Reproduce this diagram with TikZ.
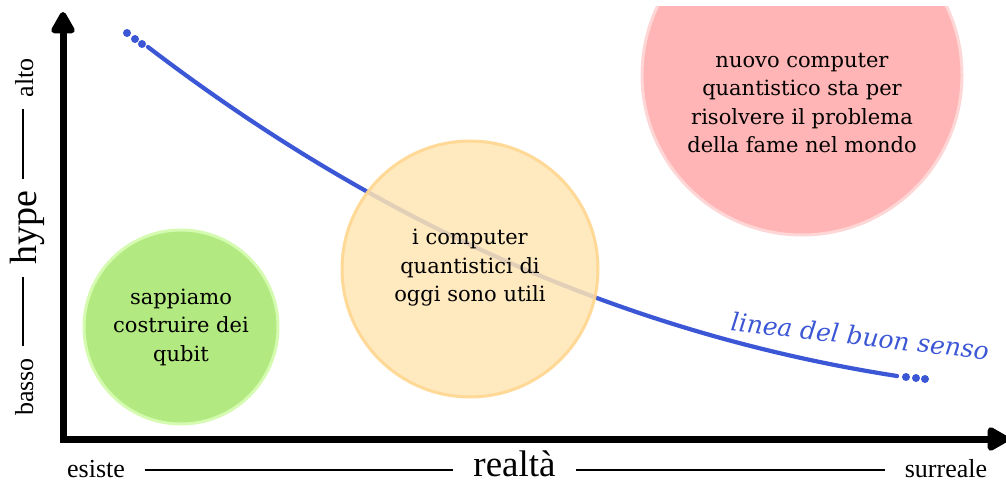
\documentclass[tikz,border=0pt]{standalone}
\usepackage{fontspec}
\setmainfont{DejaVu Serif}
\newfontfamily\axfont{Liberation Serif}
\usetikzlibrary{arrows.meta}
\definecolor{greenfill}{HTML}{B3E981}
\definecolor{greenedge}{HTML}{D4FBB0}
\definecolor{orangefill}{HTML}{FFE5B3}
\definecolor{orangeedge}{HTML}{FFD68F}
\definecolor{pinkfill}{HTML}{FFB5B5}
\definecolor{pinkedge}{HTML}{FFD6D6}
\definecolor{senso}{HTML}{3B57D6}
\begin{document}
\begin{tikzpicture}[x=1pt,y=-1pt,
  bubble/.style={circle, inner sep=0pt, align=center, line width=3pt,
    font=\fontsize{21}{28.5}\selectfont, text=black},
  axisline/.style={line width=7pt, line join=miter,
    {Triangle[length=25pt,width=26pt,round]}-{Triangle[length=25pt,width=26pt,round]}},
  small/.style={font=\axfont\fontsize{26}{26}\selectfont, inner sep=0pt, outer sep=0pt, anchor=base},
  big/.style={font=\axfont\fontsize{38}{38}\selectfont, inner sep=0pt, outer sep=0pt, anchor=base},
  rule/.style={line width=1.5pt},
  curve/.style={line width=4.2pt, senso},
  dot/.style={circle, fill=senso, inner sep=0pt, minimum size=8pt}
]
\useasboundingbox (0,0) rectangle (1006,484);

% axes
\coordinate (ytop) at (63,12);
\coordinate (origin) at (63,439);
\coordinate (xend) at (1009,439);
\draw[axisline] (ytop) -- (origin) -- (xend);

% x-axis labels
\node[small] (esiste) at (96,477) {esiste};
\node[big, font=\axfont\fontsize{37}{37}\selectfont] (realta) at (514.5,476) {realtà};
\node[small] (surreale) at (946,477) {surreale};
\coordinate (xrule) at (0,470);
\draw[rule] ([xshift=20pt]esiste.east |- xrule) -- ([xshift=-20pt]realta.west |- xrule);
\draw[rule] ([xshift=20pt]realta.east |- xrule) -- ([xshift=-20pt]surreale.west |- xrule);

% y-axis labels
\node[small, rotate=90] (basso) at (33,387) {basso};
\node[big, rotate=90] (hype) at (36,228) {hype};
\node[small, rotate=90] (alto) at (33,78) {alto};
\coordinate (yrule) at (23,0);
\draw[rule] ([yshift=12pt]basso.east -| yrule) -- ([yshift=-12pt]hype.west -| yrule);
\draw[rule] ([yshift=12pt]hype.east -| yrule) -- ([yshift=-12pt]alto.west -| yrule);

% good-sense line
\coordinate (c0) at (148,47);
\coordinate (c1) at (897,376);
\draw[curve, line cap=round] (c0) .. controls (390,232) and (640,336) .. (c1);
\node[dot] (s1) at (127,33) {};
\node[dot] (s2) at (135,39) {};
\node[dot] (s3) at (142,44) {};
\node[dot] (e1) at (906,377) {};
\node[dot] (e2) at (916,378) {};
\node[dot] (e3) at (925,379) {};
\node[rotate=-6.5, text=senso, font=\itshape\fontsize{25}{25}\selectfont, inner sep=0pt] (lbl) at (860,336) {linea del buon senso};

% bubbles
\node[bubble, fill=greenfill, draw=greenedge, minimum size=194pt] (green) at (181,327) {sappiamo\\costruire dei\\qubit};
\node[bubble, fill=orangefill, draw=orangeedge, fill opacity=0.85, draw opacity=0.9, text opacity=1, minimum size=256pt] (orange) at (470,269) {};
\node[bubble, draw=none, fill=none] (orangetext) at (470,268) {i computer\\quantistici di\\oggi sono utili};
\begin{scope}
\clip (0,7) rectangle (1006,484);
\node[bubble, fill=pinkfill, draw=pinkedge, minimum size=320pt] (pink) at (802,75) {};
\end{scope}
\node[bubble, draw=none, fill=none] (pinktext) at (802,103) {nuovo computer\\quantistico sta per\\risolvere il problema\\della fame nel mondo};
\end{tikzpicture}
\end{document}
